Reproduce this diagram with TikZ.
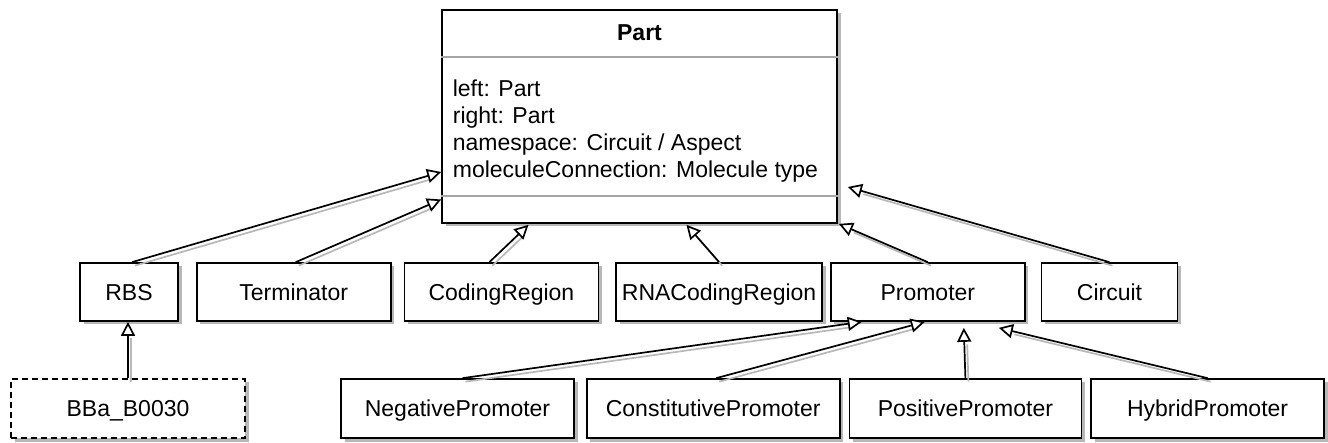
\documentclass[tikz,border=0pt]{standalone}
\usepackage{fontspec}
\setmainfont{Liberation Sans}
\usetikzlibrary{arrows.meta,positioning,shadows}

\begin{document}
\begin{tikzpicture}[x=1pt,y=-1pt,>={Triangle[length=14pt,width=14pt,fill=white]},
                    line width=1.7pt,
                    every node/.style={font=\fontsize{23}{27}\selectfont}]
  \tikzstyle{cls}=[draw=black,fill=white,inner sep=0pt,minimum height=58pt,
                   text height=16.5pt,text depth=0pt,
                   drop shadow={shadow xshift=3.5pt,shadow yshift=-3.5pt,
                                fill=black!28,opacity=1}]
  \tikzstyle{gen}=[->,preaction={draw=black!28,-,shorten >=13pt,
                   transform canvas={shift={(3pt,-3.5pt)}}}]
  \tikzstyle{divider}=[draw=black!35]

  \useasboundingbox (0,0) rectangle (1328,443);

  % the base class
  \node[cls,minimum width=395pt,minimum height=213pt] (part) at (639.5,116.5) {};
  \node[font=\bfseries\fontsize{23}{27}\selectfont] (parttitle) at (639.5,33) {Part};
  \node[anchor=north west,inner sep=0pt,align=left] (partattr) at (452,79)
    {left: Part\\right: Part\\namespace: Circuit / Aspect\\moleculeConnection: Molecule type};
  \draw[divider] ([yshift=-48pt]part.north west) -- ([yshift=-48pt]part.north east);
  \draw[divider] ([yshift=28pt]part.south west) -- ([yshift=28pt]part.south east);

  % first row
  \node[cls,minimum width=98pt] (rbs) at (129,292) {RBS};
  \node[cls,minimum width=194pt,right=17pt of rbs] (terminator) {Terminator};
  \node[cls,minimum width=194pt,right=12pt of terminator] (coding) {CodingRegion};
  \node[cls,minimum width=206pt,right=16pt of coding] (rnacoding) {RNACodingRegion};
  \node[cls,minimum width=194pt,right=7pt of rnacoding] (promoter) {Promoter};
  \node[cls,minimum width=136pt,right=15pt of promoter] (circuit) {Circuit};

  % second row
  \node[cls,dash pattern=on 6pt off 4pt,minimum width=234pt,minimum height=59pt]
    (bba) at (128,408.5) {BBa\_B0030};
  \node[cls,minimum width=233pt,minimum height=59pt] (negative) at (457.5,408.5) {NegativePromoter};
  \node[cls,minimum width=253pt,minimum height=59pt,right=11pt of negative] (constitutive) {ConstitutivePromoter};
  \node[cls,minimum width=232pt,minimum height=59pt,right=8pt of constitutive] (positive) {PositivePromoter};
  \node[cls,minimum width=233pt,minimum height=59pt,right=8pt of positive] (hybrid) {HybridPromoter};

  % generalisations
  \draw[gen] ([xshift=3pt]rbs.north) -- ([yshift=-55.5pt]part.west);
  \draw[gen] ([xshift=2pt]terminator.north) -- ([yshift=-83pt]part.west);
  \draw[gen] ([xshift=-12pt]coding.north) -- ([shift={(-111pt,-1pt)}]part.south);
  \draw[gen] (rnacoding.north) -- ([shift={(47pt,-1pt)}]part.south);
  \draw[gen] (promoter.north) -- ([xshift=1pt]part.south east);
  \draw[gen] (circuit.north) -- ([shift={(10pt,-70.5pt)}]part.east);

  \draw[gen] (bba.north) -- (bba.north |- rbs.south);
  \draw[gen] ([xshift=5pt]negative.north) -- ([xshift=-66pt]promoter.south);
  \draw[gen] ([xshift=3pt]constitutive.north) -- ([xshift=-3pt]promoter.south);
  \draw[gen] (positive.north) -- ([shift={(36pt,-6pt)}]promoter.south);
  \draw[gen] (hybrid.north) -- ([shift={(71pt,-6pt)}]promoter.south);
\end{tikzpicture}
\end{document}
